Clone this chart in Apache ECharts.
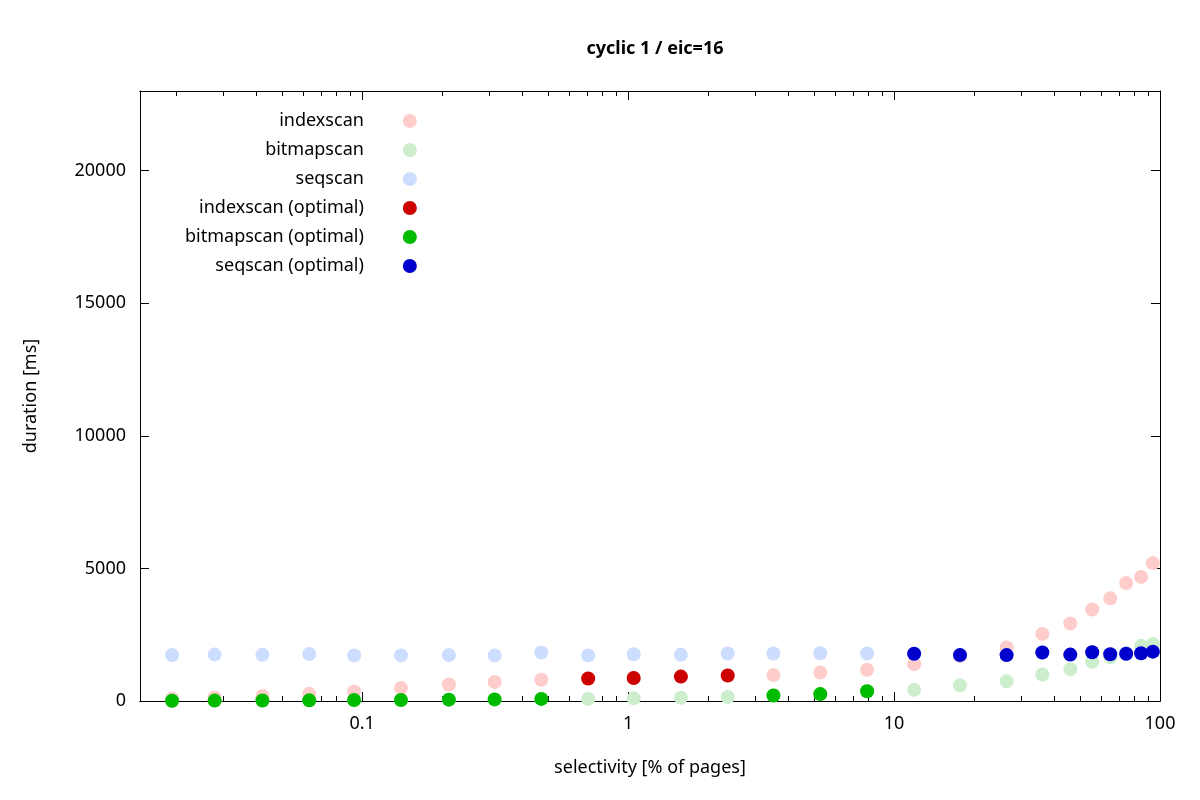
<!DOCTYPE html>
<html><head><meta charset="utf-8">
<script src="https://cdn.jsdelivr.net/npm/echarts@6/dist/echarts.min.js"></script>
<style>html,body{margin:0;padding:0;background:#fff}#c{width:1200px;height:800px}</style>
</head><body><div id="c"></div>
<script>
const selectivity = [0.0193,0.0279,0.0422,0.0633,0.0933,0.140,0.212,0.315,0.472,0.708,1.05,1.58,2.37,3.52,5.28,7.92,11.9,17.7,26.5,36.1,46,55.6,65,74.6,84.9,94];
const indexscan = [90,130,190,270,360,490,620,720,800,850,870,920,960,980,1070,1180,1390,1700,2020,2530,2920,3450,3870,4450,4680,5200];
const bitmapscan = [10,15,20,25,35,40,50,60,80,80,100,120,150,210,260,370,420,590,740,1000,1200,1480,1650,1800,2080,2150];
const seqscan = [1730,1750,1740,1770,1720,1720,1730,1720,1830,1720,1760,1740,1790,1790,1800,1790,1780,1730,1730,1830,1750,1840,1760,1780,1800,1860];
const indexOptimal = [9,10,11,12];
const bitmapOptimal = [0,1,2,3,4,5,6,7,8,13,14,15];
const seqOptimal = [16,17,18,19,20,21,22,23,24,25];
const xMajor = [0.1,1,10,100];
const yTicks = [0,5000,10000,15000,20000];

const lg = v => Math.log10(v);
const xMin = -1.835, xMax = 2;
const pts = (ys, idx) => (idx || ys.map((_, i) => i)).map(i => [lg(selectivity[i]), ys[i]]);
const minor = [];
for (let d = -2; d <= 1; d++) for (let k = 2; k <= 9; k++) { const v = lg(k * Math.pow(10, d)); if (v > xMin && v < xMax) minor.push(v); }
const major = xMajor.map(lg);
const font = 'Noto Sans';
const mkX = (pos, vals, len, labels) => ({
  type: 'value', position: pos, min: xMin, max: xMax,
  axisLine: { show: true, onZero: false, lineStyle: { color: '#000', width: 1 } },
  splitLine: { show: false },
  axisTick: { show: true, inside: true, length: len, customValues: vals, lineStyle: { color: '#000' } },
  axisLabel: labels ? { show: true, customValues: major, color: '#000', fontSize: 18, fontFamily: font, margin: 14,
    formatter: v => { const r = Math.pow(10, v); return r < 1 ? r.toFixed(1) : String(Math.round(r)); } } : { show: false },
  name: labels ? 'selectivity [% of pages]' : '', nameLocation: 'middle', nameGap: 58,
  nameTextStyle: { color: '#000', fontSize: 18, fontFamily: font }
});
const mkY = (pos, labels) => ({
  type: 'value', position: pos, min: 0, max: 23000, interval: 5000,
  axisLine: { show: true, onZero: false, lineStyle: { color: '#000' } }, splitLine: { show: false },
  axisTick: { show: true, inside: true, length: 9, customValues: yTicks, lineStyle: { color: '#000' } },
  axisLabel: labels ? { show: true, customValues: yTicks, color: '#000', fontSize: 18, fontFamily: font, margin: 14, formatter: v => String(v) } : { show: false },
  name: labels ? 'duration [ms]' : '', nameLocation: 'middle', nameGap: 100, nameRotate: 90,
  nameTextStyle: { color: '#000', fontSize: 18, fontFamily: font }
});
const sc = (name, data, color) => ({ name, type: 'scatter', data, symbolSize: 14, itemStyle: { color, opacity: 1 }, xAxisIndex: 0, yAxisIndex: 0 });
const chart = echarts.init(document.getElementById('c'));
chart.setOption({
  animation: false,
  title: { text: 'cyclic 1 / eic=16', left: 650, textAlign: 'center', top: 35, textStyle: { fontSize: 18, fontWeight: 'bold', fontFamily: font, color: '#000' } },
  grid: { left: 140, right: 40, top: 91, bottom: 99 },
  legend: { orient: 'vertical', left: 180, top: 107, align: 'right', itemGap: 11, itemWidth: 18, itemHeight: 14, icon: 'circle',
    textStyle: { fontSize: 18, fontFamily: font, color: '#000', padding: [0, 32, 0, 0] } },
  xAxis: [mkX('bottom', major, 9, true), mkX('top', major, 9, false), mkX('bottom', minor, 5, false), mkX('top', minor, 5, false)],
  yAxis: [mkY('left', true), mkY('right', false)],
  series: [
    sc('indexscan', pts(indexscan), '#ffcccc'),
    sc('bitmapscan', pts(bitmapscan), '#cceecc'),
    sc('seqscan', pts(seqscan), '#ccddff'),
    sc('indexscan (optimal)', pts(indexscan, indexOptimal), '#cc0000'),
    sc('bitmapscan (optimal)', pts(bitmapscan, bitmapOptimal), '#00bb00'),
    sc('seqscan (optimal)', pts(seqscan, seqOptimal), '#0000cc')
  ]
});
</script></body></html>
